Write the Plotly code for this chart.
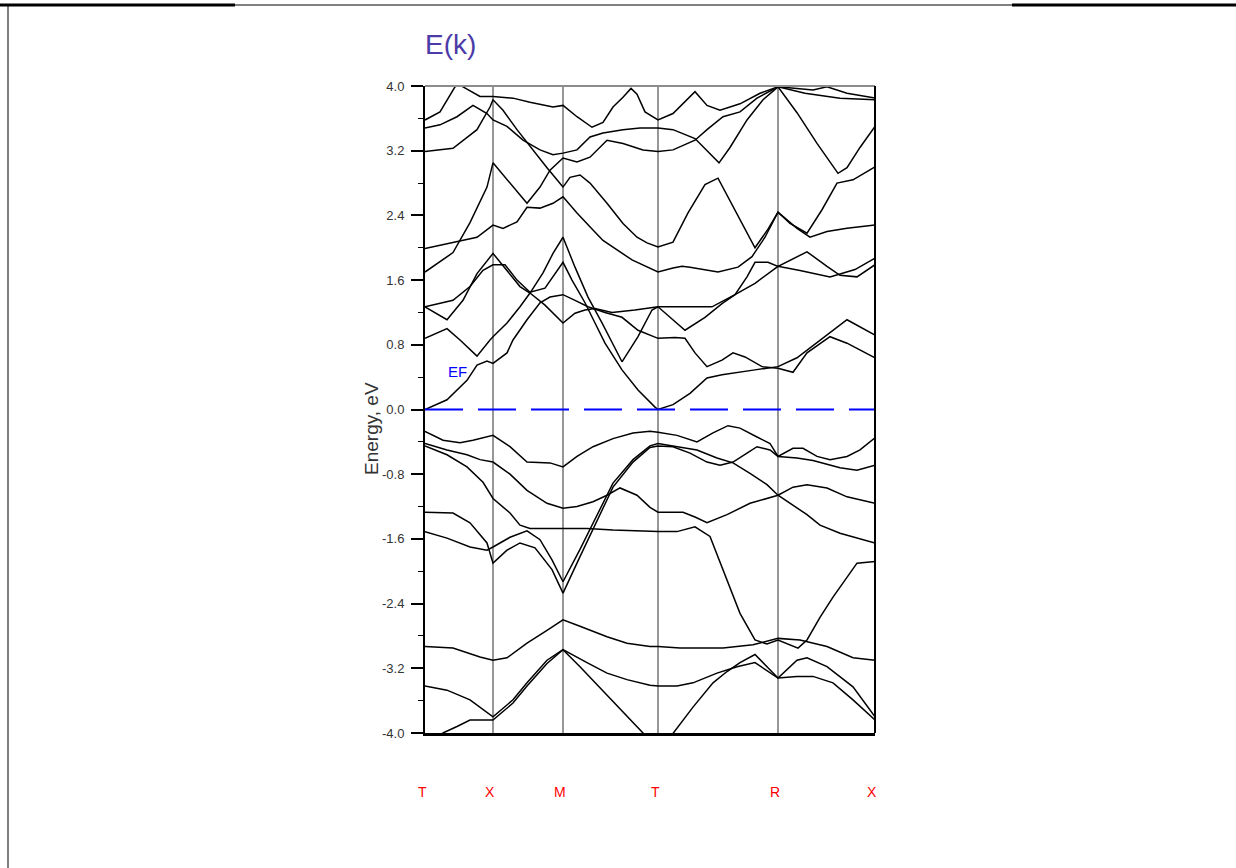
import plotly.graph_objects as go

# ---------------- data ----------------
SYM_K = [0.0, 0.68, 1.38, 2.33, 3.53, 4.50]
SYM_LABELS = ["T", "X", "M", "T", "R", "X"]
Y_TICKS = [-4.0, -3.2, -2.4, -1.6, -0.8, 0.0, 0.8, 1.6, 2.4, 3.2, 4.0]
Y_MINOR = [-3.6, -2.8, -2.0, -1.2, -0.4, 0.4, 1.2, 2.0, 2.8, 3.6]
FERMI_E = 0.0

CB1_K = [0, 0.22, 0.42, 0.52, 0.62, 0.68, 0.82, 0.88, 1.02, 1.15, 1.25, 1.38, 1.50, 1.63, 1.80, 1.97, 2.13, 2.33,
         2.50, 2.60, 2.70, 2.82, 2.97, 3.08, 3.20, 3.37, 3.53, 3.68, 3.82, 4.05, 4.22, 4.50]
CB1_E = [0.0, 0.12, 0.36, 0.55, 0.60, 0.57, 0.70, 0.86, 1.11, 1.32, 1.39, 1.42, 1.35, 1.27, 1.20, 1.14, 0.98, 0.88,
         0.89, 0.88, 0.70, 0.53, 0.61, 0.70, 0.65, 0.53, 0.51, 0.46, 0.70, 0.90, 0.82, 0.64]

CB2_K = [0, 0.12, 0.22, 0.35, 0.52, 0.65, 0.68, 0.82, 0.95, 1.05, 1.18, 1.28, 1.38, 1.50, 1.63, 1.77, 1.97, 2.13,
         2.27, 2.33, 2.60, 2.80, 2.97, 3.10, 3.22, 3.30, 3.43, 3.53, 3.72, 3.82, 4.02, 4.15, 4.32, 4.50]
CB2_E = [0.88, 0.95, 1.00, 0.86, 0.66, 0.86, 0.90, 1.07, 1.27, 1.44, 1.69, 1.93, 2.13, 1.76, 1.39, 1.07, 0.59, 0.90,
         1.23, 1.27, 0.98, 1.14, 1.31, 1.42, 1.64, 1.82, 1.82, 1.77, 1.89, 1.95, 1.77, 1.66, 1.64, 1.79]

CB3_K = [0, 0.22, 0.38, 0.52, 0.68, 0.82, 0.95, 1.05, 1.20, 1.38, 1.50, 1.60, 1.70, 1.87, 2.10, 2.33,
         2.60, 2.87, 3.10, 3.30, 3.53, 3.75, 4.05, 4.30, 4.50]
CB3_E = [1.27, 1.11, 1.35, 1.68, 1.93, 1.72, 1.52, 1.44, 1.29, 1.07, 1.19, 1.23, 1.25, 1.20, 1.23, 1.27,
         1.27, 1.27, 1.42, 1.56, 1.77, 1.72, 1.64, 1.73, 1.87]

CB4_K = [0, 0.28, 0.45, 0.58, 0.68, 0.80, 0.92, 1.05, 1.20, 1.38, 1.47, 1.60, 1.70, 1.80, 1.97, 2.13, 2.30, 2.33,
         2.48, 2.65, 2.82, 2.97, 3.30, 3.53, 3.72, 3.95, 4.22, 4.50]
CB4_E = [1.27, 1.35, 1.52, 1.72, 1.79, 1.79, 1.60, 1.45, 1.50, 1.82, 1.60, 1.32, 1.07, 0.82, 0.49, 0.24, 0.03, 0.0,
         0.06, 0.20, 0.39, 0.43, 0.49, 0.53, 0.64, 0.86, 1.11, 0.92]

CB5_K = [0, 0.28, 0.45, 0.62, 0.68, 0.85, 1.02, 1.15, 1.25, 1.38, 1.52, 1.65, 1.82, 1.98, 2.18, 2.33,
         2.48, 2.70, 2.82, 2.98, 3.15, 3.32, 3.53, 3.72, 3.88, 4.02, 4.22, 4.50]
CB5_E = [1.70, 1.94, 2.31, 2.75, 3.05, 2.80, 2.55, 2.75, 2.96, 3.11, 3.06, 3.12, 3.33, 3.29, 3.21, 3.19,
         3.21, 3.33, 3.46, 3.62, 3.68, 3.85, 3.99, 3.97, 3.95, 3.99, 3.91, 3.85]

CB6_K = [0, 0.25, 0.52, 0.68, 0.78, 0.92, 1.02, 1.15, 1.28, 1.38, 1.52, 1.68, 1.78, 2.07, 2.33,
         2.48, 2.57, 2.65, 2.93, 3.13, 3.27, 3.40, 3.53, 3.65, 3.82, 3.97, 4.12, 4.28, 4.50]
CB6_E = [1.99, 2.06, 2.13, 2.28, 2.24, 2.32, 2.50, 2.49, 2.55, 2.63, 2.43, 2.22, 2.09, 1.85, 1.70,
         1.75, 1.77, 1.76, 1.70, 1.76, 1.89, 2.13, 2.44, 2.30, 2.18, 2.47, 2.80, 2.84, 3.00]

CB7_K = [0, 0.28, 0.52, 0.65, 0.68, 0.78, 0.92, 1.05, 1.22, 1.38, 1.45, 1.55, 1.65, 1.82, 1.98, 2.12, 2.22, 2.33,
         2.48, 2.63, 2.80, 2.93, 3.03, 3.17, 3.30, 3.43, 3.53, 3.72, 3.85, 4.02, 4.22, 4.50]
CB7_E = [3.19, 3.23, 3.46, 3.74, 3.83, 3.70, 3.46, 3.25, 2.99, 2.75, 2.87, 2.90, 2.80, 2.55, 2.30, 2.13, 2.06, 2.01,
         2.07, 2.43, 2.78, 2.86, 2.63, 2.30, 2.00, 2.23, 2.44, 2.24, 2.13, 2.20, 2.24, 2.28]

CB8_K = [0, 0.15, 0.32, 0.48, 0.62, 0.68, 0.82, 0.98, 1.15, 1.28, 1.38, 1.52, 1.65, 1.78, 1.98, 2.15, 2.33,
         2.48, 2.70, 2.94, 3.05, 3.22, 3.38, 3.53, 3.72, 3.92, 4.13, 4.22, 4.35, 4.50]
CB8_E = [3.48, 3.52, 3.62, 3.76, 3.66, 3.58, 3.50, 3.33, 3.21, 3.15, 3.17, 3.21, 3.37, 3.42, 3.46, 3.48, 3.48,
         3.46, 3.35, 3.05, 3.24, 3.58, 3.83, 3.99, 3.67, 3.29, 2.92, 2.99, 3.24, 3.50]

CB9_K = [0, 0.15, 0.30, 0.34, 0.38, 0.55, 0.68, 0.88, 1.05, 1.28, 1.38, 1.52, 1.67, 1.78, 1.88, 1.98, 2.06, 2.12,
         2.20, 2.33, 2.48, 2.70, 2.82, 2.95, 3.15, 3.35, 3.53, 3.80, 4.15, 4.50]
CB9_E = [3.58, 3.68, 3.99, 4.02, 3.99, 3.87, 3.87, 3.85, 3.80, 3.74, 3.76, 3.62, 3.49, 3.55, 3.74, 3.86, 3.97, 3.90,
         3.68, 3.58, 3.66, 3.93, 3.76, 3.70, 3.78, 3.91, 3.99, 3.91, 3.85, 3.83]

VB1_K = [0, 0.18, 0.35, 0.48, 0.68, 0.85, 1.02, 1.25, 1.38, 1.52, 1.68, 1.88, 2.08, 2.25, 2.33, 2.52, 2.72, 2.88,
         3.03, 3.15, 3.32, 3.45, 3.53, 3.68, 3.78, 3.92, 4.05, 4.22, 4.35, 4.50]
VB1_E = [-0.27, -0.38, -0.41, -0.38, -0.32, -0.46, -0.65, -0.66, -0.71, -0.58, -0.46, -0.36, -0.29, -0.27, -0.28,
         -0.32, -0.40, -0.29, -0.20, -0.23, -0.34, -0.42, -0.58, -0.48, -0.48, -0.58, -0.62, -0.58, -0.50, -0.35]

VB2_K = [0, 0.22, 0.42, 0.55, 0.68, 0.85, 1.02, 1.22, 1.38, 1.52, 1.68, 1.82, 1.95, 2.12, 2.25, 2.33, 2.58, 2.70,
         2.82, 3.02, 3.25, 3.53, 3.68, 3.82, 4.02, 4.22, 4.50]
VB2_E = [-0.42, -0.50, -0.56, -0.62, -0.65, -0.80, -1.00, -1.16, -1.22, -1.20, -1.14, -1.06, -0.97, -1.06, -1.21,
         -1.27, -1.27, -1.33, -1.40, -1.30, -1.16, -1.06, -0.96, -0.93, -0.97, -1.08, -1.16]

VB3_K = [0, 0.22, 0.42, 0.58, 0.68, 0.85, 0.95, 1.05, 1.38, 1.62, 1.88, 2.25, 2.33, 2.52, 2.70, 2.85, 3.02, 3.15,
         3.30, 3.42, 3.53, 3.65, 3.73, 3.82, 3.95, 4.08, 4.22, 4.32, 4.50]
VB3_E = [-0.45, -0.56, -0.71, -0.90, -1.10, -1.28, -1.43, -1.47, -1.47, -1.47, -1.49, -1.51, -1.51, -1.51, -1.45,
         -1.57, -2.11, -2.52, -2.85, -2.90, -2.85, -2.91, -2.95, -2.85, -2.57, -2.32, -2.07, -1.90, -1.88]

VB4_K = [0, 0.28, 0.45, 0.62, 0.68, 0.82, 0.95, 1.10, 1.27, 1.38, 1.55, 1.72, 1.88, 2.08, 2.25, 2.33, 2.48, 2.65,
         2.82, 2.95, 3.08, 3.22, 3.32, 3.45, 3.53, 3.72, 3.88, 4.15, 4.32, 4.50]
VB4_E = [-1.27, -1.28, -1.40, -1.65, -1.90, -1.74, -1.65, -1.71, -1.98, -2.27, -1.82, -1.37, -0.96, -0.65, -0.47,
         -0.45, -0.46, -0.54, -0.65, -0.69, -0.65, -0.54, -0.46, -0.50, -0.58, -0.60, -0.63, -0.72, -0.75, -0.69]

VB5_K = [0, 0.22, 0.45, 0.62, 0.68, 0.85, 1.02, 1.15, 1.27, 1.38, 1.55, 1.72, 1.88, 2.08, 2.25, 2.33, 2.52, 2.72,
         2.92, 3.08, 3.25, 3.42, 3.53, 3.65, 3.82, 3.95, 4.15, 4.50]
VB5_E = [-1.51, -1.59, -1.70, -1.74, -1.70, -1.58, -1.50, -1.61, -1.86, -2.13, -1.73, -1.31, -0.91, -0.62, -0.45,
         -0.42, -0.46, -0.50, -0.60, -0.66, -0.79, -0.93, -1.06, -1.16, -1.30, -1.43, -1.53, -1.65]

VB6_K = [0, 0.28, 0.55, 0.68, 0.82, 1.02, 1.22, 1.38, 1.55, 1.82, 2.02, 2.25, 2.33, 2.55, 2.98, 3.28, 3.53, 3.75,
         4.02, 4.28, 4.50]
VB6_E = [-2.93, -2.95, -3.06, -3.10, -3.07, -2.89, -2.73, -2.60, -2.68, -2.81, -2.89, -2.93, -2.93, -2.95, -2.95,
         -2.91, -2.83, -2.85, -2.93, -3.07, -3.10]

VB7_K = [0, 0.22, 0.45, 0.68, 0.88, 1.02, 1.22, 1.38, 1.62, 1.82, 2.02, 2.25, 2.33, 2.52, 2.68, 2.92, 3.12, 3.30,
         3.53, 3.72, 3.82, 4.02, 4.28, 4.50]
VB7_E = [-3.42, -3.47, -3.59, -3.80, -3.59, -3.38, -3.10, -2.97, -3.13, -3.26, -3.34, -3.41, -3.42, -3.42, -3.38,
         -3.26, -3.18, -3.13, -3.32, -3.10, -3.07, -3.18, -3.43, -3.80]

VB8_K = [0, 0.18, 0.32, 0.45, 0.65, 0.68, 0.88, 1.02, 1.22, 1.38, 1.55, 1.82, 2.05, 2.18, 2.33, 2.48, 2.68, 2.88,
         3.02, 3.15, 3.30, 3.42, 3.53, 3.72, 3.88, 4.08, 4.28, 4.50]
VB8_E = [-4.20, -4.00, -3.92, -3.84, -3.84, -3.84, -3.63, -3.42, -3.14, -2.97, -3.18, -3.53, -3.84, -4.00, -4.25,
         -4.00, -3.68, -3.38, -3.24, -3.13, -3.03, -3.18, -3.32, -3.30, -3.30, -3.38, -3.59, -3.84]

BANDS = [(CB1_K, CB1_E), (CB2_K, CB2_E), (CB3_K, CB3_E), (CB4_K, CB4_E), (CB5_K, CB5_E),
         (CB6_K, CB6_E), (CB7_K, CB7_E), (CB8_K, CB8_E), (CB9_K, CB9_E),
         (VB1_K, VB1_E), (VB2_K, VB2_E), (VB3_K, VB3_E), (VB4_K, VB4_E),
         (VB5_K, VB5_E), (VB6_K, VB6_E), (VB7_K, VB7_E), (VB8_K, VB8_E)]

# ---------------- geometry ----------------
W, H = 1236, 868
L, R, T, B = 425, 875, 86, 733


def px(xp):
    return (xp - L) / (R - L)


def py(yp):
    return (B - yp) / (B - T)


FONT = "Liberation Sans, Arial, sans-serif"

fig = go.Figure()

for k, e in BANDS:
    fig.add_trace(go.Scatter(x=k, y=e, mode="lines", line=dict(color="black", width=1.5),
                             showlegend=False, hoverinfo="skip"))

fig.add_trace(go.Scatter(x=[SYM_K[0], SYM_K[-1]], y=[FERMI_E, FERMI_E], mode="lines",
                         line=dict(color="#0000ff", width=2, dash="38px,15px"),
                         showlegend=False, hoverinfo="skip"))

shapes = []
for kv in SYM_K[1:-1]:
    shapes.append(dict(type="line", xref="x", yref="paper", x0=kv, x1=kv, y0=0, y1=1,
                       line=dict(color="#8c8c8c", width=1.8), layer="below"))
# top and right frame of plot
shapes.append(dict(type="line", xref="paper", yref="paper", x0=0, x1=1, y0=1, y1=1,
                   line=dict(color="#8c8c8c", width=2)))
shapes.append(dict(type="line", xref="paper", yref="paper", x0=1, x1=1, y0=0, y1=1,
                   line=dict(color="black", width=2)))
# page border
shapes.append(dict(type="line", xref="paper", yref="paper", x0=px(8), x1=px(8), y0=py(5), y1=py(868),
                   line=dict(color="black", width=1)))
shapes.append(dict(type="line", xref="paper", yref="paper", x0=px(0), x1=px(235), y0=py(5), y1=py(5),
                   line=dict(color="black", width=3)))
shapes.append(dict(type="line", xref="paper", yref="paper", x0=px(235), x1=px(1012), y0=py(5), y1=py(5),
                   line=dict(color="black", width=1)))
shapes.append(dict(type="line", xref="paper", yref="paper", x0=px(1012), x1=px(1236), y0=py(5), y1=py(5),
                   line=dict(color="black", width=3)))

annotations = []
annotations.append(dict(text="E(k)", xref="paper", yref="paper", x=px(423), y=py(45), xanchor="left",
                        yanchor="middle", showarrow=False,
                        font=dict(family=FONT, size=28, color="#4b3ca8")))
annotations.append(dict(text="Energy, eV", xref="paper", yref="paper", x=px(371), y=py(429),
                        xanchor="center", yanchor="middle", textangle=-90, showarrow=False,
                        font=dict(family=FONT, size=19, color="#333333")))
annotations.append(dict(text="EF", xref="x", yref="y", x=0.32, y=0.47, showarrow=False,
                        font=dict(family=FONT, size=15, color="#0000ff")))
for kv, lab in zip(SYM_K, SYM_LABELS):
    annotations.append(dict(text=lab, xref="x", yref="paper", x=kv, y=py(792), xshift=-3,
                            yanchor="middle", showarrow=False,
                            font=dict(family=FONT, size=14, color="#ff0000")))

fig.update_layout(
    width=W, height=H,
    margin=dict(l=L, r=W - R, t=T, b=H - B, pad=0),
    paper_bgcolor="white", plot_bgcolor="white",
    shapes=shapes, annotations=annotations,
    xaxis=dict(range=[SYM_K[0], SYM_K[-1]], showgrid=False, zeroline=False, showline=True,
               linecolor="black", linewidth=3, ticks="", showticklabels=False, fixedrange=True),
    yaxis=dict(range=[-4, 4], tickvals=Y_TICKS, ticktext=["%.1f" % v for v in Y_TICKS],
               showgrid=False, zeroline=False, showline=True, linecolor="black", linewidth=2,
               ticks="outside", ticklen=12, tickwidth=1.5, tickcolor="black", ticklabelstandoff=4,
               minor=dict(tickvals=Y_MINOR, ticks="outside", ticklen=5, tickwidth=1.2, tickcolor="black"),
               tickfont=dict(family=FONT, size=13, color="#333333"), fixedrange=True),
)

fig.write_html("out.html")
